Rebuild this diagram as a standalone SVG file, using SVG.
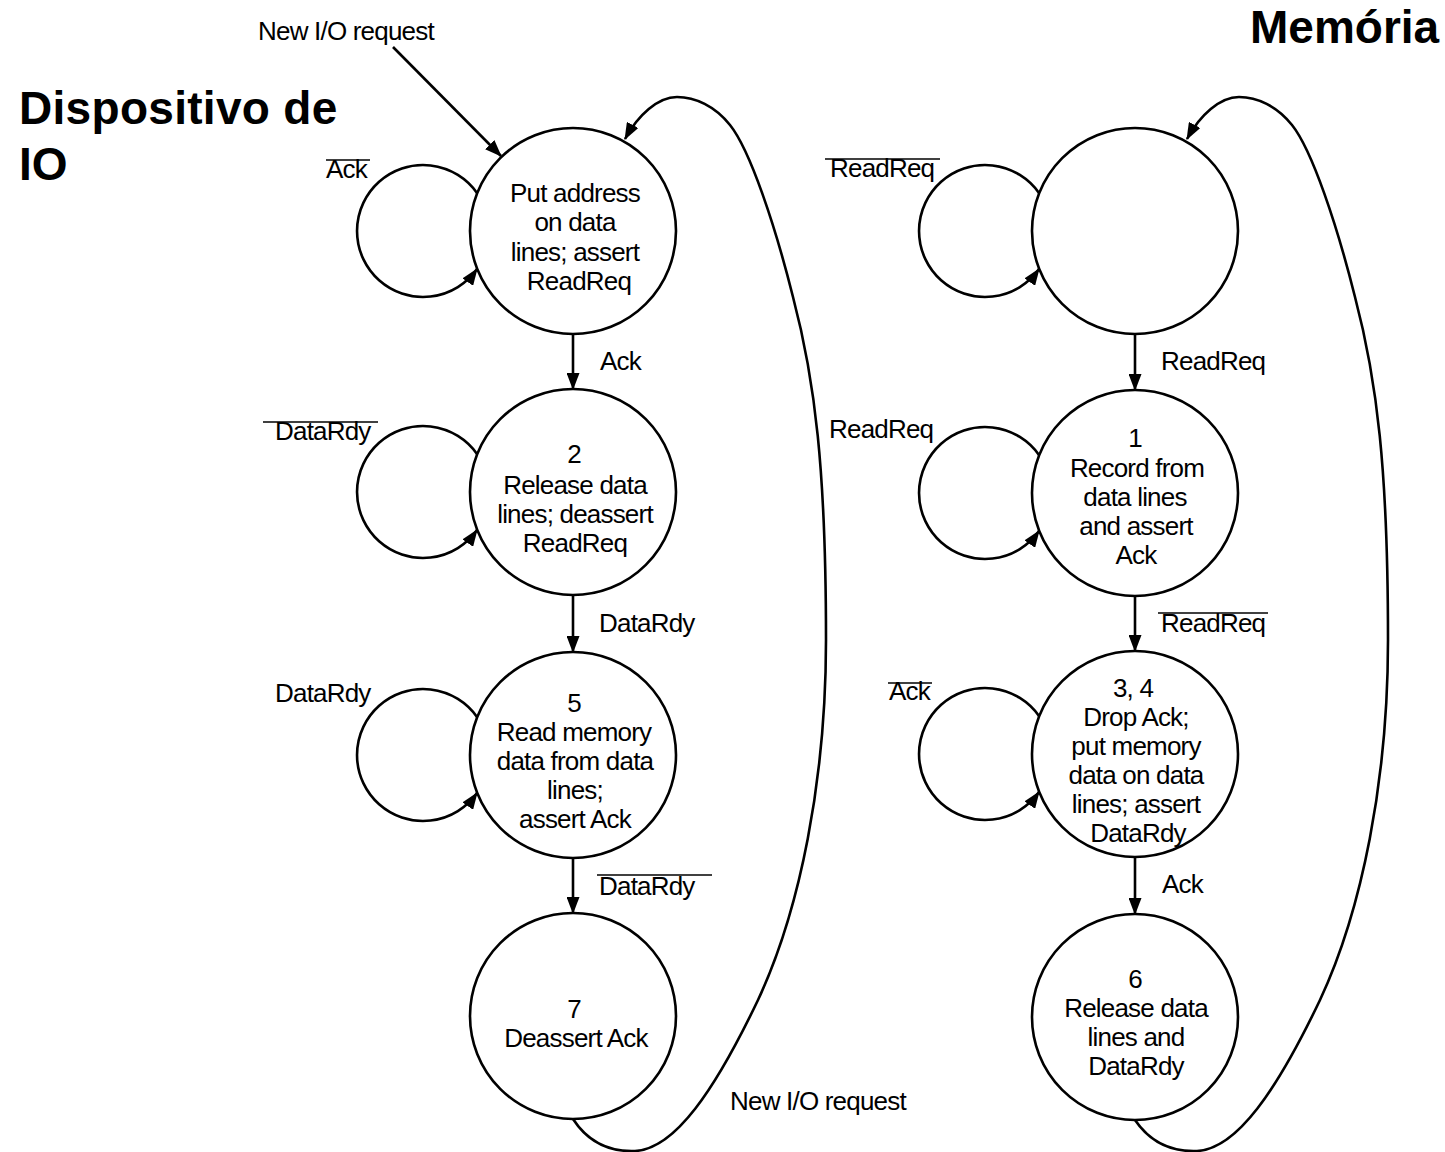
<svg xmlns="http://www.w3.org/2000/svg" width="1445" height="1152" viewBox="0 0 1445 1152">
<style>
.st{fill:#fff;stroke:#000;stroke-width:2.6}
.ln{fill:none;stroke:#000;stroke-width:2.6}
.t{font-family:"Liberation Sans",Arial,sans-serif;font-size:26px;letter-spacing:-0.8px;fill:#000}
.c{text-anchor:middle}
.h{font-family:"Liberation Sans",Arial,sans-serif;font-size:46px;font-weight:bold;fill:#000}
</style>
<defs>
<marker id="ah" markerUnits="userSpaceOnUse" markerWidth="17" markerHeight="13" viewBox="0 0 17 13" refX="16" refY="6.5" orient="auto">
<path d="M0,0 L17,6.5 L0,13 z" fill="#000"/>
</marker>
</defs>
<rect width="1445" height="1152" fill="#fff"/>
<text class="h" x="19" y="124" style="letter-spacing:0.3px">Dispositivo de</text>
<text class="h" x="19" y="180">IO</text>
<text class="h" x="1250" y="43">Memória</text>
<g id="connectors">
<line class="ln" x1="393" y1="47" x2="501" y2="156" marker-end="url(#ah)"/>
<path class="ln" d="M477,193 A66,66 0 1 0 477,269" marker-end="url(#ah)"/>
<path class="ln" d="M477,454 A66,66 0 1 0 477,530" marker-end="url(#ah)"/>
<path class="ln" d="M477,717 A66,66 0 1 0 477,793" marker-end="url(#ah)"/>
<path class="ln" d="M1039,193 A66,66 0 1 0 1039,269" marker-end="url(#ah)"/>
<path class="ln" d="M1039,455 A66,66 0 1 0 1039,531" marker-end="url(#ah)"/>
<path class="ln" d="M1039,716 A66,66 0 1 0 1039,792" marker-end="url(#ah)"/>
<line class="ln" x1="573" y1="334" x2="573" y2="389" marker-end="url(#ah)"/>
<line class="ln" x1="573" y1="595" x2="573" y2="652" marker-end="url(#ah)"/>
<line class="ln" x1="573" y1="858" x2="573" y2="913" marker-end="url(#ah)"/>
<line class="ln" x1="1135" y1="334" x2="1135" y2="390" marker-end="url(#ah)"/>
<line class="ln" x1="1135" y1="596" x2="1135" y2="651" marker-end="url(#ah)"/>
<line class="ln" x1="1135" y1="857" x2="1135" y2="914" marker-end="url(#ah)"/>
<path class="ln" d="M573,1119 C588,1142 610,1152 635,1151 C675,1149 715,1090 758,1000 C800,910 826,780 826,640 C826,470 815,380 793,297 C775,225 750,150 730,125 C715,106 695,97 677,97 C658,97 638,115 625,139" marker-end="url(#ah)"/>
<path class="ln" d="M1135,1120 C1150,1142 1172,1152 1197,1151 C1237,1149 1277,1090 1320,1000 C1362,910 1388,780 1388,640 C1388,470 1377,380 1355,297 C1337,225 1312,150 1292,125 C1277,106 1257,97 1239,97 C1220,97 1200,115 1187,139" marker-end="url(#ah)"/>
</g>
<g id="labels">
<text class="t" x="258" y="40">New I/O request</text>
<text class="t" x="326" y="178">Ack</text>
<text class="t" x="275" y="440">DataRdy</text>
<text class="t" x="275" y="702">DataRdy</text>
<text class="t" x="600" y="370">Ack</text>
<text class="t" x="599" y="632">DataRdy</text>
<text class="t" x="599" y="895">DataRdy</text>
<text class="t" x="830" y="177">ReadReq</text>
<text class="t" x="829" y="438">ReadReq</text>
<text class="t" x="889" y="700">Ack</text>
<text class="t" x="1161" y="370">ReadReq</text>
<text class="t" x="1161" y="632">ReadReq</text>
<text class="t" x="1162" y="893">Ack</text>
<text class="t" x="730" y="1110">New I/O request</text>
<g stroke="#000" stroke-width="1.5">
<line x1="326" y1="160" x2="370" y2="160"/>
<line x1="263" y1="422" x2="378" y2="422"/>
<line x1="597" y1="875" x2="712" y2="875"/>
<line x1="825" y1="159" x2="940" y2="159"/>
<line x1="888" y1="683" x2="932" y2="683"/>
<line x1="1158" y1="613" x2="1268" y2="613"/>
</g>
</g>
<g id="n-put">
<circle class="st" cx="573" cy="231" r="103"/>
<text class="t c" x="575" y="202">Put address</text>
<text class="t c" x="575" y="231">on data</text>
<text class="t c" x="575" y="261">lines; assert</text>
<text class="t c" x="579" y="290">ReadReq</text>
</g>
<g id="n-2">
<circle class="st" cx="573" cy="492" r="103"/>
<text class="t c" x="574" y="463">2</text>
<text class="t c" x="575" y="494">Release data</text>
<text class="t c" x="575" y="523">lines; deassert</text>
<text class="t c" x="575" y="552">ReadReq</text>
</g>
<g id="n-5">
<circle class="st" cx="573" cy="755" r="103"/>
<text class="t c" x="574" y="712">5</text>
<text class="t c" x="574" y="741">Read memory</text>
<text class="t c" x="575" y="770">data from data</text>
<text class="t c" x="575" y="799">lines;</text>
<text class="t c" x="575" y="828">assert Ack</text>
</g>
<g id="n-7">
<circle class="st" cx="573" cy="1016" r="103"/>
<text class="t c" x="574" y="1018">7</text>
<text class="t c" x="576" y="1047">Deassert Ack</text>
</g>
<g id="m-idle">
<circle class="st" cx="1135" cy="231" r="103"/>
</g>
<g id="m-1">
<circle class="st" cx="1135" cy="493" r="103"/>
<text class="t c" x="1135" y="447">1</text>
<text class="t c" x="1137" y="477">Record from</text>
<text class="t c" x="1135" y="506">data lines</text>
<text class="t c" x="1136" y="535">and assert</text>
<text class="t c" x="1136" y="564">Ack</text>
</g>
<g id="m-34">
<circle class="st" cx="1135" cy="754" r="103"/>
<text class="t c" x="1133" y="697">3, 4</text>
<text class="t c" x="1136" y="726">Drop Ack;</text>
<text class="t c" x="1136" y="755">put memory</text>
<text class="t c" x="1136" y="784">data on data</text>
<text class="t c" x="1136" y="813">lines; assert</text>
<text class="t c" x="1138" y="842">DataRdy</text>
</g>
<g id="m-6">
<circle class="st" cx="1135" cy="1017" r="103"/>
<text class="t c" x="1135" y="988">6</text>
<text class="t c" x="1136" y="1017">Release data</text>
<text class="t c" x="1136" y="1046">lines and</text>
<text class="t c" x="1136" y="1075">DataRdy</text>
</g>
</svg>
